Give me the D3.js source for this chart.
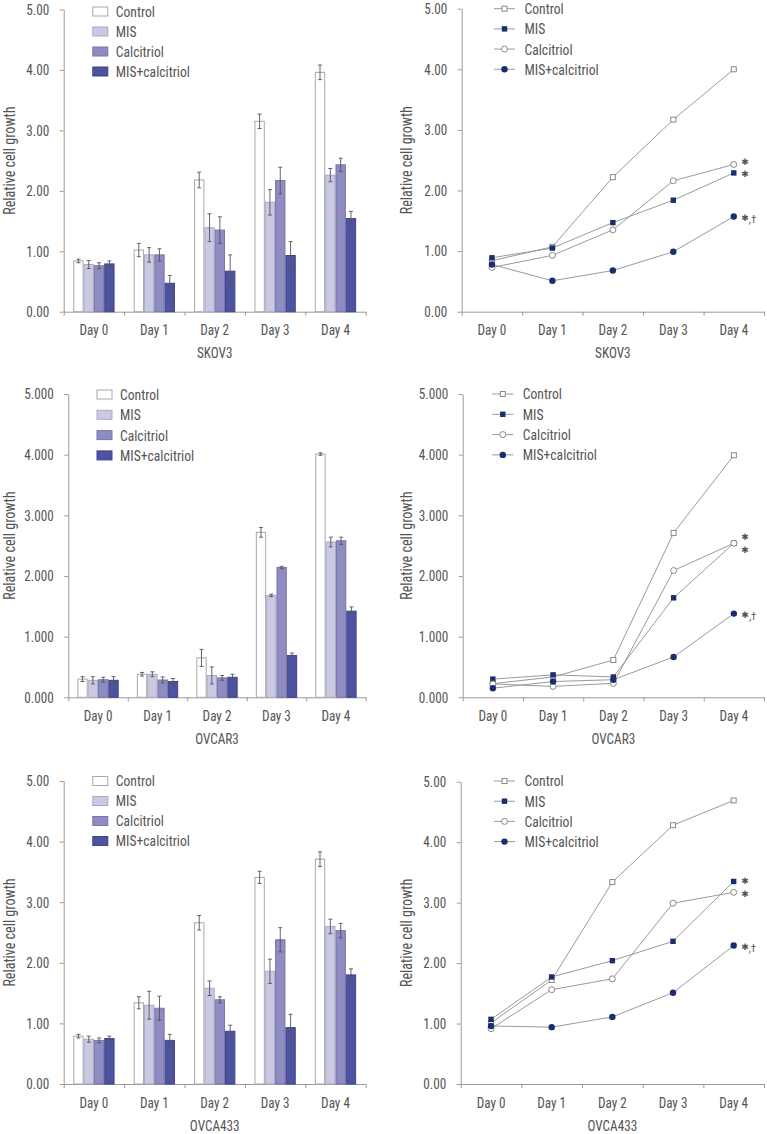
<!DOCTYPE html>
<html><head><meta charset="utf-8">
<script src="https://cdn.jsdelivr.net/npm/d3@7"></script>
<style>
html,body{margin:0;padding:0;background:#fff;}
svg text{font-family:"Roboto Condensed","Liberation Sans Narrow","DejaVu Sans Condensed",sans-serif;fill:#555;}
</style></head>
<body>
<svg id="chart" width="767" height="1134"></svg>
<script>
// ---------- data ----------
const days = ["Day 0","Day 1","Day 2","Day 3","Day 4"];
const seriesNames = ["Control","MIS","Calcitriol","MIS+calcitriol"];
const yTickValues = [0,1,2,3,4,5];
const cellLines = ["SKOV3","OVCAR3","OVCA433"];

// SKOV3 bar chart (mean, error)
const skov3BarControl = [0.84,1.02,2.18,3.15,3.96];
const skov3BarControlErr = [0.03,0.11,0.13,0.12,0.12];
const skov3BarMIS = [0.78,0.94,1.39,1.81,2.26];
const skov3BarMISErr = [0.066,0.12,0.23,0.21,0.11];
const skov3BarCal = [0.76,0.94,1.35,2.17,2.43];
const skov3BarCalErr = [0.05,0.10,0.22,0.22,0.11];
const skov3BarMC = [0.79,0.47,0.67,0.93,1.54];
const skov3BarMCErr = [0.05,0.13,0.27,0.23,0.12];
// SKOV3 line chart
const skov3LineControl = [0.84,1.07,2.22,3.17,4.00];
const skov3LineMIS = [0.89,1.05,1.47,1.84,2.29];
const skov3LineCal = [0.73,0.93,1.35,2.16,2.43];
const skov3LineMC = [0.78,0.51,0.68,0.99,1.57];

// OVCAR3 bar chart
const ovcar3BarControl = [0.30,0.38,0.65,2.72,4.01];
const ovcar3BarControlErr = [0.04,0.03,0.14,0.08,0.02];
const ovcar3BarMIS = [0.28,0.38,0.36,1.68,2.56];
const ovcar3BarMISErr = [0.06,0.04,0.14,0.02,0.08];
const ovcar3BarCal = [0.29,0.285,0.32,2.14,2.58];
const ovcar3BarCalErr = [0.04,0.05,0.04,0.02,0.06];
const ovcar3BarMC = [0.28,0.26,0.33,0.69,1.42];
const ovcar3BarMCErr = [0.06,0.05,0.05,0.04,0.07];
// OVCAR3 line chart
const ovcar3LineControl = [0.225,0.335,0.615,2.71,3.99];
const ovcar3LineMIS = [0.30,0.37,0.335,1.64,2.54];
const ovcar3LineCal = [0.22,0.18,0.23,2.09,2.54];
const ovcar3LineMC = [0.15,0.26,0.29,0.665,1.38];

// OVCA433 bar chart
const ovca433BarControl = [0.79,1.34,2.66,3.41,3.71];
const ovca433BarControlErr = [0.03,0.10,0.12,0.10,0.12];
const ovca433BarMIS = [0.74,1.30,1.58,1.86,2.60];
const ovca433BarMISErr = [0.05,0.23,0.12,0.20,0.12];
const ovca433BarCal = [0.72,1.25,1.39,2.38,2.53];
const ovca433BarCalErr = [0.04,0.20,0.05,0.20,0.12];
const ovca433BarMC = [0.75,0.72,0.87,0.93,1.80];
const ovca433BarMCErr = [0.04,0.10,0.10,0.22,0.10];
// OVCA433 line chart
const ovca433LineControl = [1.01,1.72,3.34,4.28,4.69];
const ovca433LineMIS = [1.07,1.77,2.04,2.36,3.35];
const ovca433LineCal = [0.915,1.56,1.74,2.99,3.17];
const ovca433LineMC = [0.96,0.94,1.11,1.51,2.29];

// significance marks at Day 4 (per series: Control, MIS, Calcitriol, MIS+calcitriol)
const significanceMarks = ["", "✱", "✱", "✱,†"];

// ---------- styles / layout ----------
const barFill = ["#ffffff","#c9c9e2","#8e8cc0","#4e539f"];
const barStroke = ["#a8a8a8","#a9a9cc","#7775ab","#3d4290"];
const navy = "#1b2d6c";
const axisCol = "#9a9a9a";
const SX = 0.88; // horizontal condensing of the typeface

const svg = d3.select("#chart");

function ctext(g, x, y, str, size, anchor){
  return g.append("text").attr("transform",`translate(${x},${y}) scale(${SX},1)`)
    .attr("text-anchor",anchor||"start").attr("font-size",size).text(str);
}

function axes(g, L, fmt, title){
  const y = d3.scaleLinear().domain([0,5]).range([L.y0, L.yTop]);
  const x = d3.scaleBand().domain(days).range([L.xL, L.xR]);
  const ya = g.append("g").attr("transform",`translate(${L.xL},0)`)
    .call(d3.axisLeft(y).tickValues(yTickValues).tickFormat(d3.format(fmt)).tickSize(4).tickSizeOuter(0).tickPadding(10.5));
  ya.select(".domain").attr("stroke",axisCol);
  ya.selectAll(".tick line").attr("stroke",axisCol);
  ya.selectAll(".tick text").attr("font-size",15).attr("font-family",null).attr("fill",null)
    .attr("transform",`scale(${SX},1)`).attr("x",-10.5/SX - 4/SX);
  const xb = d3.scaleLinear().domain([0,days.length]).range([L.xL, L.xR]);
  const xa = g.append("g").attr("transform",`translate(0,${L.y0})`)
    .call(d3.axisBottom(xb).ticks(days.length).tickFormat("").tickSize(4).tickSizeOuter(0));
  xa.select(".domain").attr("stroke",axisCol);
  xa.selectAll(".tick line").attr("stroke",axisCol);
  const xl = g.append("g").attr("transform",`translate(0,${L.y0})`)
    .call(d3.axisBottom(x).tickSize(0).tickPadding(13));
  xl.select(".domain").remove();
  xl.selectAll(".tick text").attr("font-size",15).attr("font-family",null).attr("fill",null)
    .attr("transform",`scale(${SX},1)`);
  ctext(g, (L.xL+L.xR)/2, L.y0+46.5, title, 15, "middle");
  g.append("text").attr("transform",`translate(${L.yTitleX},${(L.y0+L.yTop)/2}) rotate(-90) scale(${SX},1)`)
    .attr("text-anchor","middle").attr("dy","0.35em").attr("font-size",16).text("Relative cell growth");
  return {x,y};
}

function barPanel(L, fmt, title, means, errs){
  const g = svg.append("g");
  const {x,y} = axes(g, L, fmt, title);
  const groupW = 41.3;
  const inner = d3.scaleBand().domain(seriesNames).range([0,groupW]);
  const off = (x.bandwidth()-groupW)/2;
  seriesNames.forEach((s,si)=>{
    days.forEach((d,di)=>{
      const v = means[si][di], e = errs[si][di];
      const bx = x(d)+off+inner(s);
      g.append("rect").attr("x",bx+0.5).attr("y",y(v)).attr("width",inner.bandwidth()-1)
        .attr("height",y(0)-y(v)).attr("fill",barFill[si]).attr("stroke",barStroke[si]).attr("stroke-width",1);
      const cx = bx+inner.bandwidth()/2;
      const eg = g.append("g").attr("stroke","#555").attr("stroke-width",0.9);
      eg.append("line").attr("x1",cx).attr("x2",cx).attr("y1",y(v-e)).attr("y2",y(v+e));
      eg.append("line").attr("x1",cx-2).attr("x2",cx+2).attr("y1",y(v-e)).attr("y2",y(v-e));
      eg.append("line").attr("x1",cx-2).attr("x2",cx+2).attr("y1",y(v+e)).attr("y2",y(v+e));
    });
  });
  seriesNames.forEach((s,si)=>{
    const cy = L.legY + si*L.legStep;
    g.append("rect").attr("x",L.legX+0.5).attr("y",cy-4.5).attr("width",15).attr("height",9)
      .attr("fill",barFill[si]).attr("stroke",barStroke[si]);
    ctext(g, L.legX+23.5, cy, s, 15.5).attr("dy","0.35em");
  });
}

function marker(g, si, cx, cy){
  if(si===0) g.append("rect").attr("x",cx-2.5).attr("y",cy-2.5).attr("width",5).attr("height",5).attr("fill","#fff").attr("stroke","#888");
  else if(si===1) g.append("rect").attr("x",cx-2.7).attr("y",cy-2.7).attr("width",5.4).attr("height",5.4).attr("fill",navy);
  else if(si===2) g.append("circle").attr("cx",cx).attr("cy",cy).attr("r",3).attr("fill","#fff").attr("stroke","#888");
  else g.append("circle").attr("cx",cx).attr("cy",cy).attr("r",3.2).attr("fill",navy);
}

function linePanel(L, fmt, title, vals, markDy){
  const g = svg.append("g");
  const {x,y} = axes(g, L, fmt, title);
  const cx = d => x(d)+x.bandwidth()/2;
  const line = d3.line().x((v,i)=>cx(days[i])).y(v=>y(v));
  vals.forEach(arr=>{
    g.append("path").attr("d",line(arr)).attr("fill","none").attr("stroke","#9a9a9a").attr("stroke-width",1);
  });
  vals.forEach((arr,si)=>{
    arr.forEach((v,i)=>marker(g,si,cx(days[i]),y(v)));
  });
  // significance marks
  vals.forEach((arr,si)=>{
    const m = significanceMarks[si];
    if(!m) return;
    const px = cx(days[4])+7.5, py = y(arr[4])+markDy[si];
    const t = g.append("text").attr("x",px).attr("y",py+3.4).attr("font-size",9).attr("fill","#555");
    t.append("tspan").attr("font-family","DejaVu Sans").text(m.slice(0,1));
    if(m.length>1) t.append("tspan").attr("font-size",11).attr("dy",1.2).text(m.slice(1));
  });
  seriesNames.forEach((s,si)=>{
    const cy = L.legY + si*L.legStep;
    g.append("line").attr("x1",L.legX).attr("x2",L.legX+21).attr("y1",cy).attr("y2",cy).attr("stroke","#9a9a9a");
    marker(g, si, L.legX+10.5, cy);
    ctext(g, L.legX+30.5, cy, s, 15.5).attr("dy","0.35em");
  });
}

// layouts
const L1 = {xL:63.7,xR:365.7,yTop:9.5,y0:311.7,yTitleX:9,legX:92.3,legY:11.5,legStep:20};
const L2 = {xL:461.7,xR:764,yTop:8.7,y0:311.7,yTitleX:406.7,legX:494,legY:8.7,legStep:20.2};
const L3 = {xL:68.3,xR:365.7,yTop:394,y0:697.3,yTitleX:9,legX:96.5,legY:394.5,legStep:20.3};
const L4 = {xL:462.7,xR:764,yTop:394,y0:697.3,yTitleX:406.7,legX:492.3,legY:394,legStep:20.3};
const L5 = {xL:63.7,xR:365.7,yTop:781,y0:1084,yTitleX:9,legX:92.3,legY:781,legStep:20};
const L6 = {xL:460.7,xR:764,yTop:781.7,y0:1084,yTitleX:406.7,legX:494,legY:781,legStep:20.2};

barPanel(L1, ".2f", cellLines[0],
  [skov3BarControl,skov3BarMIS,skov3BarCal,skov3BarMC],
  [skov3BarControlErr,skov3BarMISErr,skov3BarCalErr,skov3BarMCErr]);
linePanel(L2, ".2f", cellLines[0],
  [skov3LineControl,skov3LineMIS,skov3LineCal,skov3LineMC], [0,0.5,-3,1.5]);
barPanel(L3, ".3f", cellLines[1],
  [ovcar3BarControl,ovcar3BarMIS,ovcar3BarCal,ovcar3BarMC],
  [ovcar3BarControlErr,ovcar3BarMISErr,ovcar3BarCalErr,ovcar3BarMCErr]);
linePanel(L4, ".3f", cellLines[1],
  [ovcar3LineControl,ovcar3LineMIS,ovcar3LineCal,ovcar3LineMC], [0,6.7,-6.7,1.5]);
barPanel(L5, ".2f", cellLines[2],
  [ovca433BarControl,ovca433BarMIS,ovca433BarCal,ovca433BarMC],
  [ovca433BarControlErr,ovca433BarMISErr,ovca433BarCalErr,ovca433BarMCErr]);
linePanel(L6, ".2f", cellLines[2],
  [ovca433LineControl,ovca433LineMIS,ovca433LineCal,ovca433LineMC], [0,-0.5,1.5,1.5]);
</script>
</body></html>
